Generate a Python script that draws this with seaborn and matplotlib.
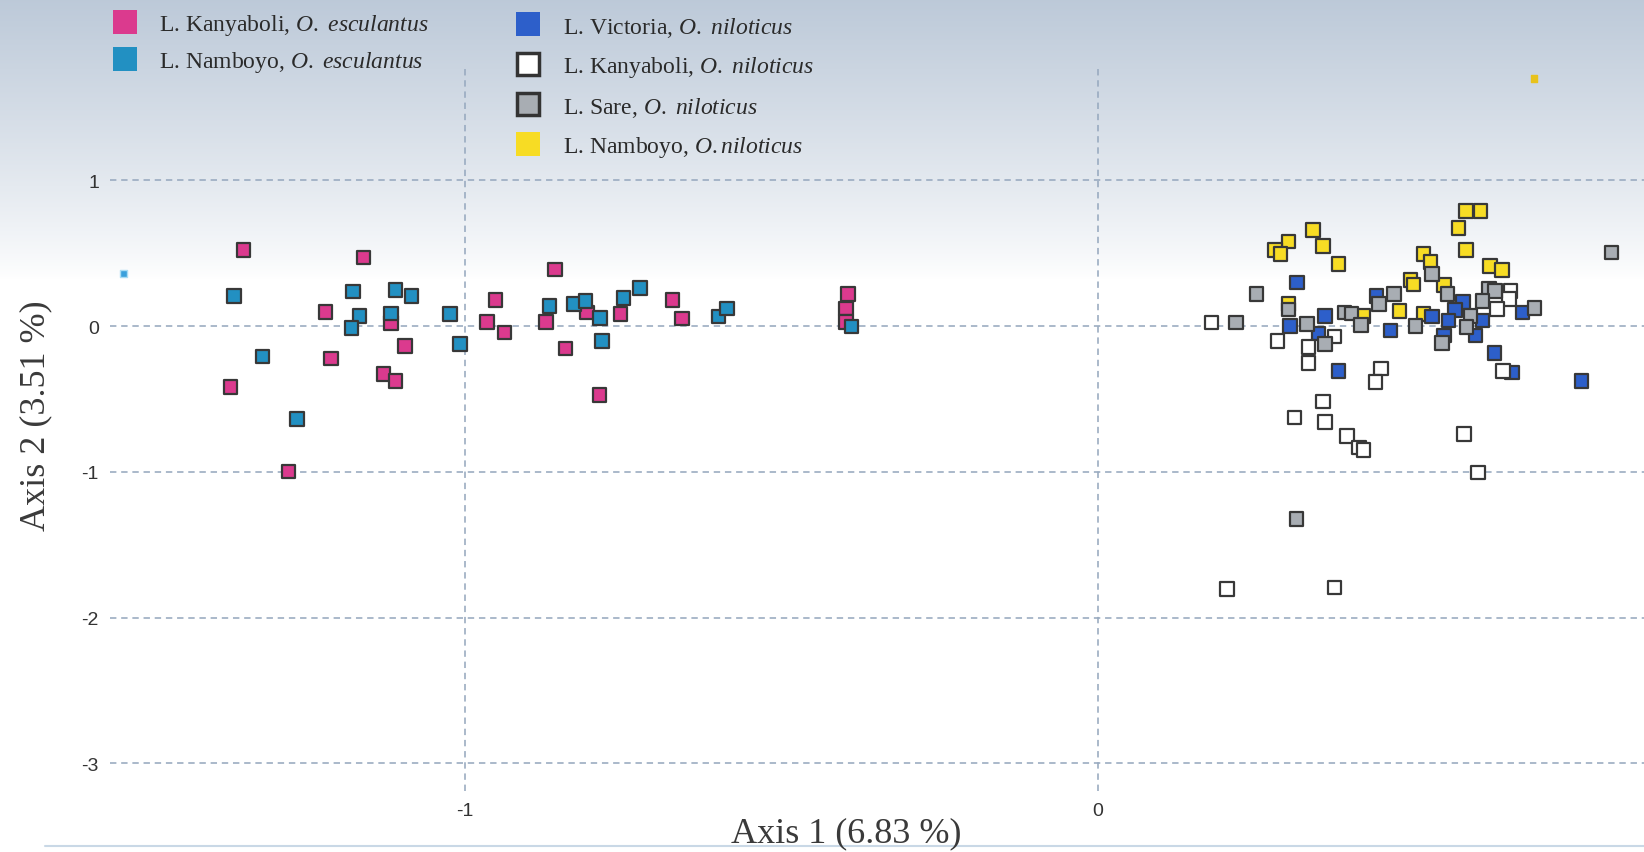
import numpy as np
import pandas as pd
import seaborn as sns
import matplotlib.pyplot as plt
from matplotlib.lines import Line2D

# PCoA coordinates
kany_esc_x = [-1.349, -1.160, -1.220, -1.116, -1.094, -1.211, -1.128, -1.109, -1.370, -1.278,
              -0.951, -0.965, -0.937, -0.857, -0.872, -0.807, -0.841, -0.787, -0.754, -0.672,
              -0.657, -0.395, -0.398, -0.398]
kany_esc_y = [0.524, 0.471, 0.098, 0.021, -0.135, -0.222, -0.329, -0.375, -0.416, -0.997,
              0.181, 0.030, -0.043, 0.387, 0.030, 0.094, -0.153, -0.474, 0.082, 0.181,
              0.053, 0.220, 0.121, 0.030]

namb_esc_x = [-1.364, -1.176, -1.109, -1.084, -1.166, -1.116, -1.179, -1.023, -1.007, -1.319,
              -1.265, -0.866, -0.827, -0.809, -0.786, -0.783, -0.749, -0.723, -0.599, -0.586,
              -0.389]
namb_esc_y = [0.208, 0.236, 0.247, 0.208, 0.071, 0.087, -0.014, 0.082, -0.124, -0.208,
              -0.638, 0.139, 0.151, 0.174, 0.055, -0.101, 0.194, 0.263, 0.066, 0.121,
              -0.002]

namb_nil_x = [0.339, 0.301, 0.279, 0.288, 0.355, 0.380, 0.493, 0.498, 0.476, 0.418, 0.301,
              0.581, 0.604, 0.569, 0.581, 0.514, 0.525, 0.619, 0.638, 0.546, 0.514]
namb_nil_y = [0.661, 0.581, 0.524, 0.494, 0.551, 0.426, 0.318, 0.284, 0.105, 0.071, 0.151,
              0.791, 0.791, 0.673, 0.524, 0.494, 0.441, 0.414, 0.384, 0.281, 0.082]

vict_nil_x = [0.314, 0.358, 0.303, 0.348, 0.380, 0.462, 0.440, 0.576, 0.564, 0.527, 0.553,
              0.607, 0.596, 0.670, 0.626, 0.654, 0.763, 0.546]
vict_nil_y = [0.300, 0.071, 0.000, -0.050, -0.307, -0.030, 0.208, 0.165, 0.112, 0.066, 0.037,
              0.037, -0.064, 0.094, -0.183, -0.318, -0.375, -0.066]

kany_nil_x = [0.179, 0.283, 0.332, 0.332, 0.373, 0.447, 0.438, 0.651, 0.649, 0.630, 0.639,
              0.355, 0.310, 0.358, 0.393, 0.412, 0.419, 0.578, 0.600, 0.204, 0.373]
kany_nil_y = [0.025, -0.101, -0.142, -0.252, -0.072, -0.290, -0.382, 0.242, 0.187, 0.119, -0.307,
              -0.517, -0.627, -0.657, -0.753, -0.833, -0.849, -0.741, -1.004, -1.805, -1.793]

sare_nil_x = [0.250, 0.218, 0.301, 0.330, 0.358, 0.389, 0.400, 0.415, 0.444, 0.467, 0.501,
              0.527, 0.552, 0.617, 0.627, 0.607, 0.588, 0.582, 0.543, 0.689, 0.811, 0.313]
sare_nil_y = [0.220, 0.025, 0.113, 0.014, -0.124, 0.094, 0.085, 0.007, 0.151, 0.220, 0.000,
              0.357, 0.220, 0.254, 0.240, 0.174, 0.071, -0.005, -0.115, 0.125, 0.506, -1.325]

# two small stray marks on the scan
stray_x = [-1.539, 0.688]
stray_y = [0.362, 1.700]

groups = ['Kanyaboli esc', 'Namboyo esc', 'Namboyo nil', 'Victoria nil', 'Kanyaboli nil', 'Sare nil']
labels = [r'L. Kanyaboli, $\mathit{O.\ esculantus}$',
          r'L. Namboyo, $\mathit{O.\ esculantus}$',
          r'L. Namboyo, $\mathit{O.niloticus}$',
          r'L. Victoria, $\mathit{O.\ niloticus}$',
          r'L. Kanyaboli, $\mathit{O.\ niloticus}$',
          r'L. Sare, $\mathit{O.\ niloticus}$']
colors = ['#db3a8e', '#2290c2', '#f7dc24', '#2d5fca', '#ffffff', '#a8adb3']
palette = dict(zip(groups, colors))

xs = [kany_esc_x, namb_esc_x, namb_nil_x, vict_nil_x, kany_nil_x, sare_nil_x]
ys = [kany_esc_y, namb_esc_y, namb_nil_y, vict_nil_y, kany_nil_y, sare_nil_y]
df = pd.concat([pd.DataFrame({'x': x, 'y': y, 'group': g}) for g, x, y in zip(groups, xs, ys)],
               ignore_index=True)

sns.set_theme(style='white')
plt.rcParams['font.family'] = ['Liberation Serif', 'DejaVu Serif']
plt.rcParams['mathtext.fontset'] = 'custom'
plt.rcParams['mathtext.rm'] = 'Liberation Serif'
plt.rcParams['mathtext.it'] = 'Liberation Serif:italic'
plt.rcParams['axes.unicode_minus'] = False

W, H = 1644, 853
fig = plt.figure(figsize=(W / 100, H / 100), dpi=100)

# scanned-paper background: bluish at the top fading to white
bg = fig.add_axes([0, 0, 1, 1], zorder=-10)
rows = np.arange(H)
t = np.clip(rows / 280.0, 0, 1)[:, None]
top = np.array([0.74, 0.79, 0.85])
grad = top * (1 - t) ** 0.85 + np.ones(3) * (1 - (1 - t) ** 0.85)
bg.imshow(np.repeat(grad[:, None, :], 4, axis=1), aspect='auto', extent=(0, 1, 0, 1))
bg.axis('off')

ax = fig.add_axes([110 / W, 1 - 792 / H, 1 - 110 / W, (792 - 68) / H])
ax.set_facecolor('none')

sns.scatterplot(data=df, x='x', y='y', hue='group', palette=palette, marker='s', s=95,
                edgecolor='#383838', linewidth=1.6, legend=False, ax=ax, zorder=3)
ax.scatter(stray_x, stray_y, marker='s', s=22, c=['#3aa0dc', '#e8c21c'],
           edgecolors=['#a8dcf4', '#e8c21c'], linewidths=1.0, zorder=3)

ax.set_xlim(-1.56, 0.862)
ax.set_ylim(-3.19, 1.778)
ax.set_xticks([-1, 0])
ax.set_yticks([1, 0, -1, -2, -3])
ax.grid(True, linestyle=(0, (4, 3)), color='#97a9bf', linewidth=1.15)
for s in ax.spines.values():
    s.set_visible(False)
ax.tick_params(length=0, labelsize=14, labelcolor='#333333', pad=8)
for lab in ax.get_xticklabels() + ax.get_yticklabels():
    lab.set_family('Liberation Sans')
ax.set_xlabel('')
ax.set_ylabel('')

fig.text(846 / W, 1 - 834 / H, 'Axis 1 (6.83 %)', ha='center', va='center',
         fontsize=26, color='#3a3a3a')
fig.text(36 / W, 1 - 416 / H, 'Axis 2 (3.51 %)', ha='center', va='center',
         rotation=90, fontsize=26, color='#3a3a3a')

def handle(fc, edge):
    if edge:
        return Line2D([], [], marker='s', linestyle='none', markersize=16,
                      markerfacecolor=fc, markeredgecolor='#333333', markeredgewidth=2.5)
    return Line2D([], [], marker='s', linestyle='none', markersize=17,
                  markerfacecolor=fc, markeredgecolor=fc, markeredgewidth=0)

fs = 17
em = fs * 100 / 72
leg1 = fig.legend(handles=[handle(colors[0], False), handle(colors[1], False)],
                  labels=labels[:2], loc='upper left',
                  bbox_to_anchor=((125 - em / 2) / W, 1 - 13 / H),
                  frameon=False, fontsize=fs, handlelength=1.0,
                  handletextpad=(159 - 125 - em / 2) / em,
                  labelspacing=0.52, borderpad=0, borderaxespad=0, labelcolor='#2a2a2a')
leg2 = fig.legend(handles=[handle(colors[3], False), handle(colors[4], True),
                           handle(colors[5], True), handle(colors[2], False)],
                  labels=[labels[3], labels[4], labels[5], labels[2]],
                  loc='upper left', bbox_to_anchor=((528 - em / 2) / W, 1 - 15.5 / H),
                  frameon=False, fontsize=fs, handlelength=1.0,
                  handletextpad=(563 - 528 - em / 2) / em,
                  labelspacing=0.66, borderpad=0, borderaxespad=0, labelcolor='#2a2a2a')

fig.add_artist(Line2D([45 / W, 1], [1 - 847 / H, 1 - 847 / H], color='#c9d8e6',
                      linewidth=1.5, transform=fig.transFigure))

fig.savefig('out.png', dpi=100)
